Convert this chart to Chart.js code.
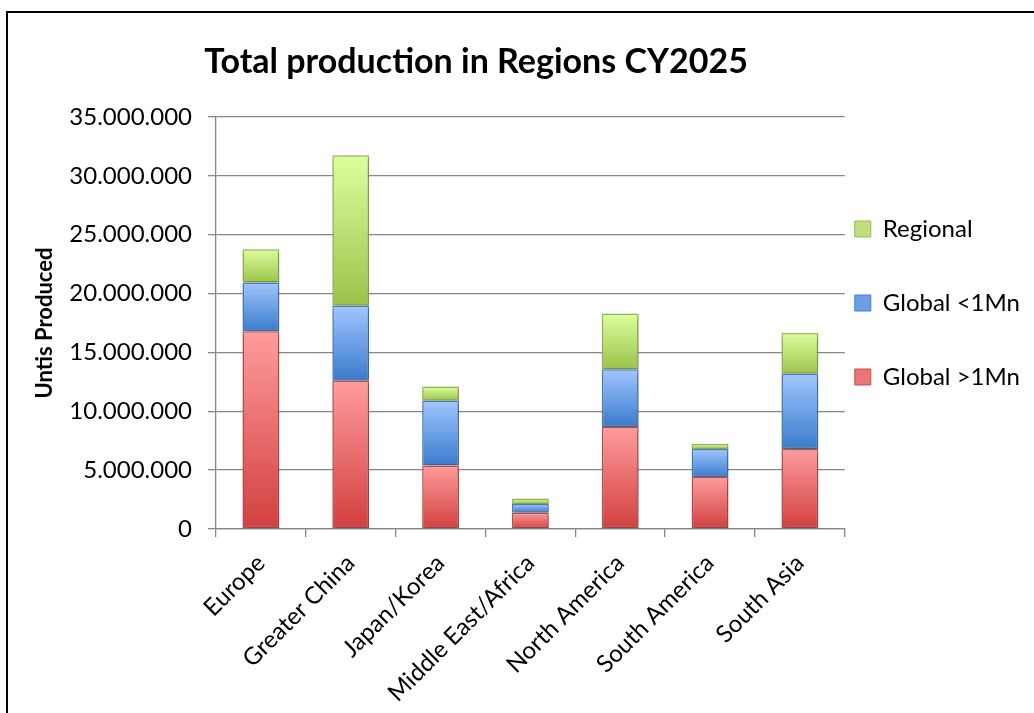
<!DOCTYPE html>
<html>
<head>
<meta charset="utf-8">
<title>Total production in Regions CY2025</title>
<script src="https://cdn.jsdelivr.net/npm/chart.js@4/dist/chart.umd.min.js"></script>
<style>
  html, body { margin: 0; padding: 0; background: #fff; overflow: hidden; }
  #frame { position: absolute; left: 6px; top: 11px; width: 1200px; height: 900px;
           border-left: 2px solid #000; border-top: 2px solid #000; }
  #chart { position: absolute; left: 0; top: 0; }
</style>
</head>
<body>
<div id="frame"></div>
<canvas id="chart" width="1034" height="713"></canvas>
<script>
// Regions on the category axis
const regions = ['Europe', 'Greater China', 'Japan/Korea', 'Middle East/Africa',
                 'North America', 'South America', 'South Asia'];

// Units produced per region, stacked bottom to top
const globalOver1Mn  = [16800000, 12600000, 5400000, 1380000, 8660000, 4410000, 6790000];
const globalUnder1Mn = [ 4130000,  6360000, 5490000,  740000, 4920000, 2380000, 6390000];
const regional       = [ 2840000, 12790000, 1210000,  480000, 4720000,  450000, 3460000];

// Series names
const seriesNames = ['Global >1Mn', 'Global <1Mn', 'Regional'];

// Value axis range
const yMin = 0;
const yMax = 35000000;
const yStep = 5000000;

// Fill gradients (light top -> darker bottom) and outline colours per series
const palette = [
  { top: '#ff9c9c', bottom: '#d23f3f', border: '#c0504d', legend: '#ec7676' },
  { top: '#a0c6ff', bottom: '#3a7bcc', border: '#4a7ebb', legend: '#6d9fe6' },
  { top: '#dcff9e', bottom: '#9bc34a', border: '#98b954', legend: '#bde07a' }
];

const seriesValues = [globalOver1Mn, globalUnder1Mn, regional];

// Thousands separated with dots: 35.000.000
const formatUnits = v => String(Math.round(v)).replace(/\B(?=(\d{3})+(?!\d))/g, '.');

// Per-segment vertical gradient computed from the stacked value range
function segmentGradient(ctx) {
  const chart = ctx.chart;
  const p = palette[ctx.datasetIndex];
  if (!chart.chartArea || ctx.dataIndex === undefined || !chart.scales.y) return p.legend;
  const i = ctx.dataIndex;
  let base = 0;
  for (let k = 0; k < ctx.datasetIndex; k++) base += seriesValues[k][i];
  const end = base + seriesValues[ctx.datasetIndex][i];
  const y = chart.scales.y;
  const yTop = y.getPixelForValue(end);
  const yBot = y.getPixelForValue(base);
  if (!isFinite(yTop) || !isFinite(yBot) || yTop === yBot) return p.legend;
  const g = chart.ctx.createLinearGradient(0, yTop, 0, yBot);
  g.addColorStop(0, p.top);
  g.addColorStop(1, p.bottom);
  return g;
}

const TITLE_CENTER_X = 476;
const Y_AXIS_WIDTH = 216;
const X_AXIS_HEIGHT = 184;

// Centres the title over the plot block rather than the whole canvas
const titlePlacement = {
  id: 'titlePlacement',
  afterLayout(chart) {
    const t = chart.titleBlock;
    if (!t) return;
    const w = t.right - t.left;
    t.left = TITLE_CENTER_X - w / 2;
    t.right = TITLE_CENTER_X + w / 2;
  }
};

// Soft drop shadow under the bars
const barShadow = {
  id: 'barShadow',
  beforeDatasetsDraw(chart) {
    const c = chart.ctx;
    c.save();
    c.shadowColor = 'rgba(0,0,0,0.28)';
    c.shadowBlur = 4;
    c.shadowOffsetX = 1;
    c.shadowOffsetY = 2;
  },
  afterDatasetsDraw(chart) {
    chart.ctx.restore();
  }
};

Chart.defaults.font.family = 'Lato, "DejaVu Sans", sans-serif';
Chart.defaults.color = '#000';

const gridGray = '#868686';

new Chart(document.getElementById('chart'), {
  type: 'bar',
  data: {
    labels: regions,
    datasets: seriesValues.map((vals, d) => ({
      label: seriesNames[d],
      data: vals,
      backgroundColor: segmentGradient,
      borderColor: palette[d].border,
      borderWidth: 1.5,
      borderSkipped: false,
      categoryPercentage: 1,
      barPercentage: 0.41
    }))
  },
  options: {
    responsive: false,
    animation: false,
    events: [],
    layout: { padding: { left: 0, right: 4, top: 0, bottom: 0 } },
    plugins: {
      title: {
        display: true,
        text: 'Total production in Regions CY2025',
        font: { size: 34, weight: 'bold' },
        color: '#000',
        padding: { top: 41.6, bottom: 34.6 }
      },
      legend: {
        position: 'right',
        fullSize: false,
        reverse: true,
        labels: {
          boxWidth: 16,
          boxHeight: 16,
          padding: 10,
          font: { size: 24, lineHeight: 2.667 },
          color: '#000',
          generateLabels(chart) {
            return chart.data.datasets.map((ds, d) => ({
              text: [ds.label],
              fillStyle: palette[d].legend,
              strokeStyle: palette[d].border,
              lineWidth: 1,
              hidden: false,
              datasetIndex: d
            }));
          }
        }
      },
      tooltip: { enabled: false }
    },
    scales: {
      x: {
        stacked: true,
        afterFit(scale) { scale.height = X_AXIS_HEIGHT; },
        grid: { drawOnChartArea: false, drawTicks: true, tickLength: 8, color: gridGray, lineWidth: 1.3 },
        border: { display: true, color: gridGray, width: 1.3 },
        ticks: { minRotation: 45, maxRotation: 45, autoSkip: false, padding: 12, font: { size: 24 }, color: '#000' }
      },
      y: {
        stacked: true,
        min: yMin,
        max: yMax,
        afterFit(scale) { scale.width = Y_AXIS_WIDTH; },
        grid: { drawTicks: true, tickLength: 8, color: gridGray, lineWidth: 1.3 },
        border: { display: true, color: gridGray, width: 1.3 },
        ticks: { stepSize: yStep, padding: 16, font: { size: 24 }, color: '#000', callback: v => formatUnits(v) },
        title: {
          display: true,
          text: 'Untis Produced',
          font: { size: 22, weight: 'bold' },
          color: '#000',
          padding: { top: 32, bottom: 0 }
        }
      }
    }
  },
  plugins: [titlePlacement, barShadow]
});
</script>
</body>
</html>
